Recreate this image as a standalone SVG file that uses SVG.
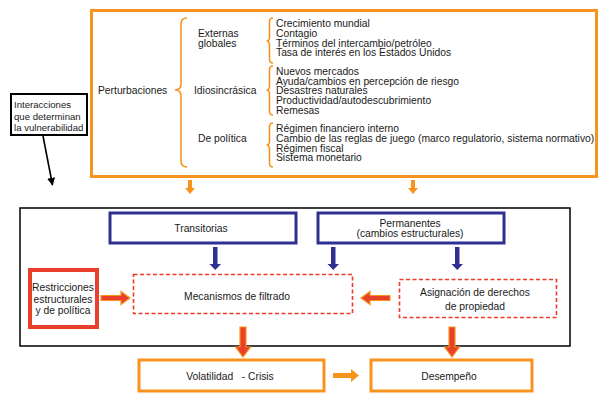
<svg xmlns="http://www.w3.org/2000/svg" width="599" height="393" viewBox="0 0 599 393">
<defs>
<style>
text{font-family:"Liberation Sans",Arial,sans-serif;font-size:10.3px;fill:#1a1a1a}
.c{text-anchor:middle}
.ob{fill:none;stroke:#F7941D;stroke-width:3}
.bb{fill:none;stroke:#2E3192;stroke-width:3}
.rb{fill:none;stroke:#E8402A;stroke-width:4}
.rd{fill:none;stroke:#EE3A2A;stroke-width:1.6;stroke-dasharray:4 2.5}
.br{fill:none;stroke:#F7941D;stroke-width:1.6}
.ao{fill:#F7941D}
.ab{fill:#2E3192}
.ar{fill:#E8402A;stroke:#F7941D;stroke-width:1.2}
</style>
<marker id="mk" viewBox="0 0 10 10" refX="9" refY="5" markerWidth="5" markerHeight="5" orient="auto"><path d="M0,0 L10,5 L0,10 z" fill="#000"/></marker>
</defs>
<rect width="599" height="393" fill="#fff"/>

<g id="perturbaciones">
<rect class="ob" x="91.5" y="10.5" width="505" height="166"/>
<text x="98" y="94">Perturbaciones</text>
<path class="br" d="M187,18 Q181,18 181,24 L181,84 Q181,90 175,90 Q181,90 181,96 L181,161 Q181,167 187,167"/>
<text x="198" y="37">Externas</text>
<text x="198" y="47">globales</text>
<text x="194" y="94">Idiosincrásica</text>
<text x="198" y="142">De política</text>
<path class="br" d="M273,18 Q269.5,18 269.5,22 L269.5,37 Q269.5,41 266.5,41 Q269.5,41 269.5,45 L269.5,59 Q269.5,63 273,63"/>
<path class="br" d="M273,66 Q269.5,66 269.5,70 L269.5,86 Q269.5,90 266.5,90 Q269.5,90 269.5,94 L269.5,111 Q269.5,115 273,115"/>
<path class="br" d="M273,123 Q269.5,123 269.5,127 L269.5,141 Q269.5,145 266.5,145 Q269.5,145 269.5,149 L269.5,163 Q269.5,167 273,167"/>
<text x="276" y="27">Crecimiento mundial</text>
<text x="276" y="37">Contagio</text>
<text x="276" y="46.5">Términos del intercambio/petróleo</text>
<text x="276" y="56">Tasa de interés en los Estados Unidos</text>
<text x="276" y="75">Nuevos mercados</text>
<text x="276" y="85">Ayuda/cambios en percepción de riesgo</text>
<text x="276" y="94">Desastres naturales</text>
<text x="276" y="104">Productividad/autodescubrimiento</text>
<text x="276" y="113.5">Remesas</text>
<text x="276" y="132">Régimen financiero interno</text>
<text x="276" y="142">Cambio de las reglas de juego (marco regulatorio, sistema normativo)</text>
<text x="276" y="151.5">Régimen fiscal</text>
<text x="276" y="161">Sistema monetario</text>
</g>

<g id="interacciones">
<rect x="11" y="94" width="76" height="41" fill="#fff" stroke="#000" stroke-width="2"/>
<text x="14" y="108" style="font-size:9.6px">Interacciones</text>
<text x="14" y="120" style="font-size:9.6px">que determinan</text>
<text x="14" y="131" style="font-size:9.6px">la vulnerabilidad</text>
</g>

<g id="marco">
<rect x="20" y="208" width="550" height="138" fill="none" stroke="#000" stroke-width="1.5"/>
</g>

<g id="transitorias">
<rect class="bb" x="110" y="213" width="186" height="30"/>
<text class="c" x="201" y="232">Transitorias</text>
</g>

<g id="permanentes">
<rect class="bb" x="318" y="213" width="186" height="30"/>
<text class="c" x="410" y="227">Permanentes</text>
<text class="c" x="410" y="237">(cambios estructurales)</text>
</g>

<g id="restricciones">
<rect class="rb" x="30" y="270" width="67" height="57" fill="#fff"/>
<text class="c" x="63" y="291">Restricciones</text>
<text class="c" x="63" y="302.5">estructurales</text>
<text class="c" x="63" y="314">y de política</text>
</g>

<g id="mecanismos">
<rect class="rd" x="133.5" y="274.5" width="219" height="39"/>
<text class="c" x="237" y="300">Mecanismos de filtrado</text>
</g>

<g id="asignacion">
<rect class="rd" x="399.5" y="279.5" width="157" height="38"/>
<text class="c" x="475" y="296">Asignación de derechos</text>
<text class="c" x="475" y="310">de propiedad</text>
</g>

<g id="volatilidad">
<rect class="ob" x="139" y="360" width="185" height="31"/>
<text class="c" x="230" y="380" xml:space="preserve" style="white-space:pre">Volatilidad   - Crisis</text>
</g>

<g id="desempeno">
<rect class="ob" x="371" y="360" width="161" height="31"/>
<text class="c" x="449" y="380">Desempeño</text>
</g>

<g id="connectors">
<line x1="43" y1="136" x2="52.5" y2="185" stroke="#000" stroke-width="1.6" marker-end="url(#mk)"/>
<path class="ao" d="M188,180 h4 v8 h3 l-5,6 l-5,-6 h3 z"/>
<path class="ao" d="M411,180 h4 v8 h3 l-5,6 l-5,-6 h3 z"/>
<path class="ab" d="M213,247 h4.5 v17 h3.5 l-5.75,6 l-5.75,-6 h3.5 z"/>
<path class="ab" d="M331,247 h4.5 v17 h3.5 l-5.75,6 l-5.75,-6 h3.5 z"/>
<path class="ab" d="M455,247 h4.5 v17 h3.5 l-5.75,6 l-5.75,-6 h3.5 z"/>
<path class="ar" d="M101,295.5 h20 v-4 l9,6.5 l-9,6.5 v-4 h-20 z"/>
<path class="ar" d="M390,295.5 h-20 v-4 l-9,6.5 l9,6.5 v-4 h20 z"/>
<path class="ar" d="M240,327 h6 v20 h4.5 l-7.5,10 l-7.5,-10 h4.5 z"/>
<path class="ar" d="M449,327 h6 v20 h4.5 l-7.5,10 l-7.5,-10 h4.5 z"/>
<path class="ao" d="M333,373 h18 v-4 l8,6.5 l-8,6.5 v-4 h-18 z"/>
</g>
</svg>
